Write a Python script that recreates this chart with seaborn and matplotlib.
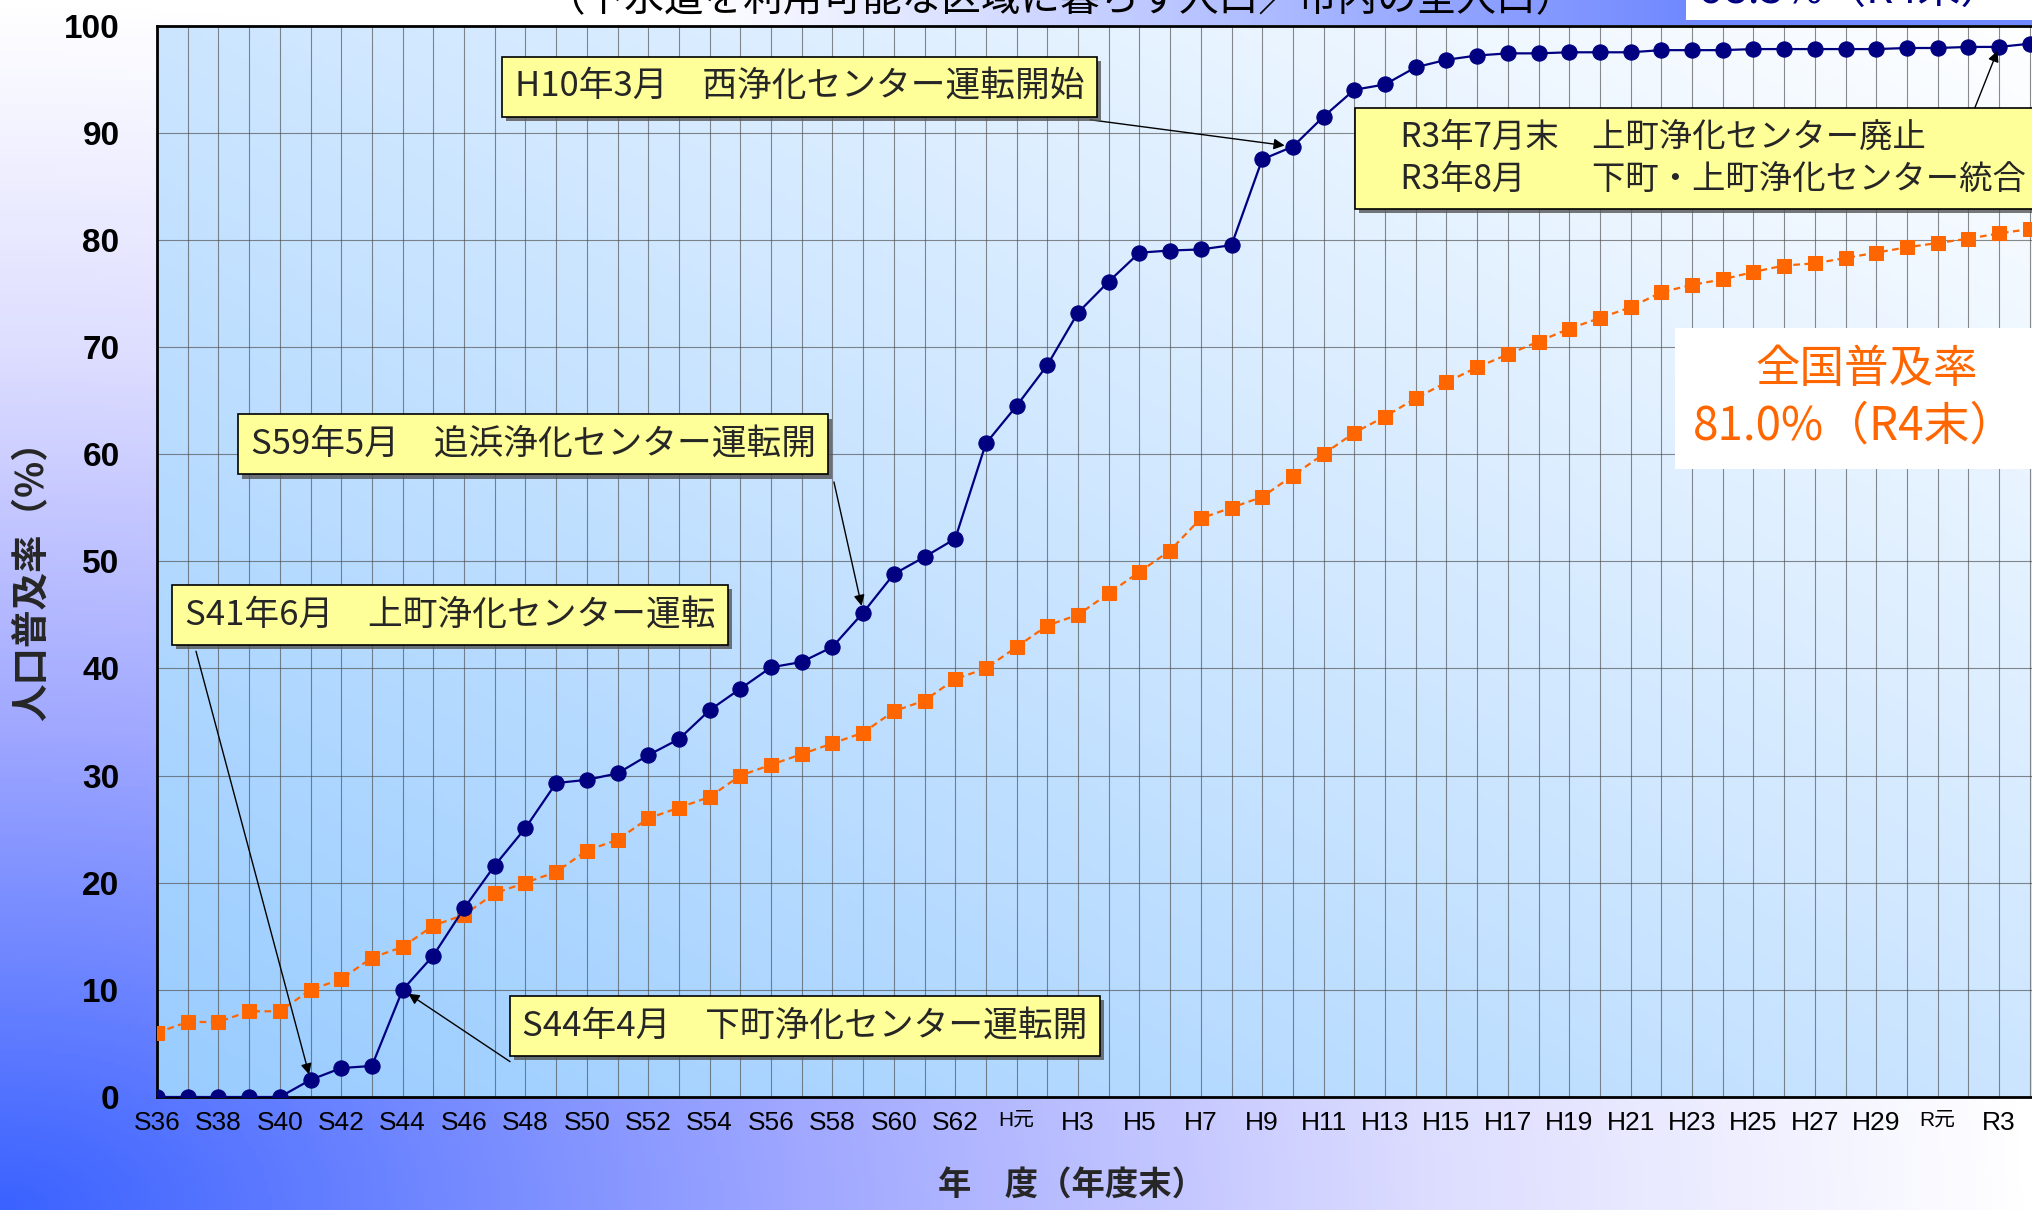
import numpy as np
import pandas as pd
import matplotlib
matplotlib.use('Agg')
import matplotlib.pyplot as plt
import matplotlib.patheffects as pe
from matplotlib.colors import LinearSegmentedColormap, to_rgb
from matplotlib.patches import Rectangle
import seaborn as sns

# ----------------------------------------------------
# Data (fiscal year end, sewer coverage %)
# ----------------------------------------------------
YEAR_LABELS = [
    'S36', 'S37', 'S38', 'S39', 'S40', 'S41', 'S42', 'S43', 'S44', 'S45',
    'S46', 'S47', 'S48', 'S49', 'S50', 'S51', 'S52', 'S53', 'S54', 'S55',
    'S56', 'S57', 'S58', 'S59', 'S60', 'S61', 'S62', 'S63', 'H元', 'H2',
    'H3', 'H4', 'H5', 'H6', 'H7', 'H8', 'H9', 'H10', 'H11', 'H12',
    'H13', 'H14', 'H15', 'H16', 'H17', 'H18', 'H19', 'H20', 'H21', 'H22',
    'H23', 'H24', 'H25', 'H26', 'H27', 'H28', 'H29', 'H30', 'R元', 'R2',
    'R3', 'R4',
]
CITY_RATE = [
    0, 0, 0, 0, 0, 1.6, 2.7, 2.9, 10.0, 13.2,
    17.6, 21.6, 25.1, 29.3, 29.6, 30.2, 31.9, 33.4, 36.1, 38.1,
    40.1, 40.6, 42.0, 45.2, 48.8, 50.4, 52.1, 61.0, 64.5, 68.3,
    73.2, 76.1, 78.8, 79.0, 79.1, 79.5, 87.5, 88.7, 91.5, 94.0,
    94.5, 96.1, 96.8, 97.2, 97.4, 97.4, 97.5, 97.5, 97.5, 97.7,
    97.7, 97.7, 97.8, 97.8, 97.8, 97.8, 97.8, 97.9, 97.9, 98.0,
    98.0, 98.3,
]
NATIONAL_RATE = [
    6, 7, 7, 8, 8, 10, 11, 13, 14, 16,
    17, 19, 20, 21, 23, 24, 26, 27, 28, 30,
    31, 32, 33, 34, 36, 37, 39, 40, 42, 44,
    45, 47, 49, 51, 54, 55, 56, 58, 60, 62,
    63.5, 65.2, 66.7, 68.1, 69.3, 70.5, 71.7, 72.7, 73.7, 75.1,
    75.8, 76.3, 77.0, 77.6, 77.8, 78.3, 78.8, 79.3, 79.7, 80.1,
    80.6, 81.0,
]
Y_TICKS = [0, 10, 20, 30, 40, 50, 60, 70, 80, 90, 100]

# (label text, year the arrow points at)
EVENTS = [
    ('H10年3月　西浄化センター運転開始', 'H10'),
    ('S59年5月　追浜浄化センター運転開', 'S59'),
    ('S41年6月　上町浄化センター運転', 'S41'),
    ('S44年4月　下町浄化センター運転開', 'S44'),
    ('　R3年7月末　上町浄化センター廃止\n　R3年8月　　下町・上町浄化センター統合', 'R3'),
]
# layout of the boxes: text anchor (x idx, y %), font size and arrow tail (x idx, y %)
EVENT_TEXT_POS = [(11.65, 94.3), (3.05, 60.9), (0.9, 45.0), (11.9, 6.6), (39.4, 87.6)]
EVENT_FONT = [25, 25, 25, 25, 24]
EVENT_TAIL_POS = [(30.4, 91.2), (22.05, 57.4), (1.27, 41.6), (11.5, 3.3), (59.1, 91.5)]
EVENT_SHRINK = [6, 5, 4, 5, 3]

sns.set_style('white')
plt.rcParams['font.family'] = ['Liberation Sans', 'Noto Sans CJK JP', 'DejaVu Sans']
JP = ['Noto Sans CJK JP', 'DejaVu Sans']

W, H = 2033, 1210
fig = plt.figure(figsize=(W / 100, H / 100), dpi=100)

# ----------------------------------------------------
# Backgrounds
# ----------------------------------------------------
bg = fig.add_axes([0, 0, 1, 1], zorder=-10)
gx, gy = np.meshgrid(np.linspace(0, 1, 500), np.linspace(0, 1, 300))
dist = np.clip(np.sqrt(gx ** 2 + gy ** 2), 0, 1)
bg_cmap = LinearSegmentedColormap.from_list(
    'bgfade', [(0, '#3a62ff'), (0.4, '#a0a8ff'), (0.7, '#dcdcff'), (1.0, '#ffffff')])
bg.imshow(dist, cmap=bg_cmap, origin='lower', extent=[0, 1, 0, 1], aspect='auto', vmin=0, vmax=1)
bg.axis('off')

# title strip at the top (fades to blue on the right)
strip = fig.add_axes([700 / W, 1 - 25 / H, (W - 700) / W, 25 / H], zorder=-5)
sx = np.clip(np.linspace(0, 1, 400) / 0.74, 0, 1)
strip_img = np.zeros((1, 400, 4))
strip_img[..., :3] = to_rgb('#7088ff')
strip_img[..., 3] = sx
strip.imshow(strip_img, extent=[0, 1, 0, 1], aspect='auto')
strip.add_patch(Rectangle((0.74, 0.2), 0.27, 0.8, transform=strip.transAxes,
                          facecolor='white', edgecolor='none'))
strip.set_xlim(0, 1)
strip.set_ylim(0, 1)
strip.axis('off')

# ----------------------------------------------------
# Main axes
# ----------------------------------------------------
ax = fig.add_axes([157 / W, 113 / H, 1903.4 / W, 1071.5 / H])
ax.set_facecolor('none')
ax_cmap = LinearSegmentedColormap.from_list('axfade', ['#99ccff', '#ffffff'])
ax.imshow((gx + gy) / 2, cmap=ax_cmap, origin='lower', extent=[0, 1, 0, 1],
          transform=ax.transAxes, aspect='auto', vmin=0, vmax=1, zorder=0)

df = pd.DataFrame({
    'idx': np.arange(len(YEAR_LABELS)),
    'year': YEAR_LABELS,
    'city': CITY_RATE,
    'national': NATIONAL_RATE,
})

sns.lineplot(data=df, x='idx', y='national', ax=ax, color='#ff6600', lw=1.6,
             linestyle=(0, (3, 2)), marker='s', markersize=9.5,
             markeredgecolor='#ff6600', zorder=3)
sns.lineplot(data=df, x='idx', y='city', ax=ax, color='#000080', lw=1.6,
             marker='o', markersize=11, markeredgecolor='#000080', zorder=4)

ax.set_xlim(0, len(YEAR_LABELS))
ax.set_ylim(0, 100)
ax.set_xticks(df['idx'])
ax.set_xticklabels([lab if i % 2 == 0 else '' for i, lab in enumerate(YEAR_LABELS)],
                   fontsize=19)
for t in ax.get_xticklabels():
    if '元' in t.get_text():
        t.set_fontsize(15)
ax.set_yticks(Y_TICKS)
ax.set_yticklabels([str(v) for v in Y_TICKS], fontsize=24, fontweight='bold')
ax.tick_params(axis='both', length=0, colors='black')
ax.tick_params(axis='y', pad=27)
ax.tick_params(axis='x', pad=10)
ax.set_axisbelow(True)
ax.grid(True, color='#4d4d4d', lw=0.8, alpha=0.65)
ax.set_xlabel('')
ax.set_ylabel('')
for side in ['left', 'bottom', 'top']:
    ax.spines[side].set_color('black')
    ax.spines[side].set_linewidth(2)
ax.spines['right'].set_visible(False)

# ----------------------------------------------------
# Event callouts
# ----------------------------------------------------
for (text, year), tpos, fs, tail, shrink in zip(EVENTS, EVENT_TEXT_POS, EVENT_FONT,
                                                EVENT_TAIL_POS, EVENT_SHRINK):
    i = YEAR_LABELS.index(year)
    box = ax.text(tpos[0], tpos[1], text, ha='left', va='center', fontsize=fs,
                  family=JP, linespacing=1.25, zorder=6, clip_on=False,
                  bbox=dict(boxstyle='square,pad=0.36', facecolor='#ffff99',
                            edgecolor='black', linewidth=1.2))
    box.get_bbox_patch().set_path_effects(
        [pe.withSimplePatchShadow(offset=(3, -3), shadow_rgbFace='#555555', alpha=0.8)])
    ax.annotate('', xy=(i, CITY_RATE[i]), xytext=tail, zorder=5,
                arrowprops=dict(arrowstyle='-|>', color='black', lw=1.0,
                                mutation_scale=16, shrinkA=0, shrinkB=shrink))

# national rate callout (white panel)
ax.add_patch(Rectangle((1675 / W, 1 - 469 / H), (W - 1675) / W + 0.01, 141 / H,
                       transform=fig.transFigure, facecolor='white', edgecolor='none',
                       zorder=1, clip_on=False))
fig.text(1867 / W, 1 - 369 / H, '全国普及率', ha='center', va='center',
         fontsize=32, color='#ff6600', family=JP)
fig.text(1855 / W, 1 - 426 / H, '81.0%（R4末）', ha='center', va='center',
         fontsize=33, color='#ff6600', family=JP)

# texts at the top edge (mostly outside the picture, as in the source)
fig.text(1061 / W, 1 - 11 / H, '（下水道を利用可能な区域に暮らす人口／市内の全人口）',
         ha='center', va='baseline', fontsize=28.5, family=JP, color='black')
fig.text(1700 / W, 1 - 4 / H, '98.3%（R4末）', ha='left', va='baseline',
         fontsize=31, family=JP, color='#000080')

# axis titles
fig.text(32 / W, 1 - 572 / H, '人口普及率（%）', rotation=90, ha='center', va='center',
         fontsize=27, fontweight='bold', family=JP)
fig.text(1072 / W, 1 - 1186 / H, '年　度（年度末）', ha='center', va='center',
         fontsize=24, fontweight='bold', family=JP)

fig.savefig('out.png', dpi=100)
